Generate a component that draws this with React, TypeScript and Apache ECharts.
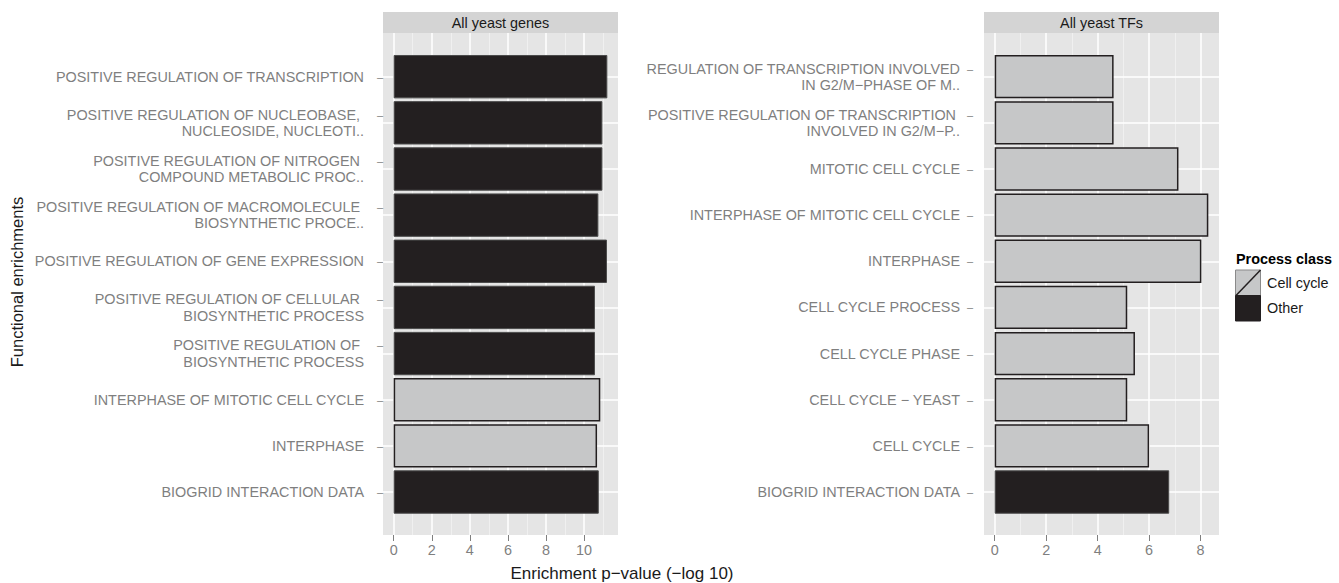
import React, { useEffect, useRef } from 'react';
import * as echarts from 'echarts';

// ---------- data ----------
const leftTitle = 'All yeast genes';
const rightTitle = 'All yeast TFs';

const leftCategories = [
  'POSITIVE REGULATION OF TRANSCRIPTION',
  'POSITIVE REGULATION OF NUCLEOBASE, \nNUCLEOSIDE, NUCLEOTI..',
  'POSITIVE REGULATION OF NITROGEN \nCOMPOUND METABOLIC PROC..',
  'POSITIVE REGULATION OF MACROMOLECULE \nBIOSYNTHETIC PROCE..',
  'POSITIVE REGULATION OF GENE EXPRESSION',
  'POSITIVE REGULATION OF CELLULAR \nBIOSYNTHETIC PROCESS',
  'POSITIVE REGULATION OF \nBIOSYNTHETIC PROCESS',
  'INTERPHASE OF MITOTIC CELL CYCLE',
  'INTERPHASE',
  'BIOGRID INTERACTION DATA',
];
const leftValues = [11.22, 10.96, 10.96, 10.75, 11.2, 10.57, 10.57, 10.85, 10.68, 10.77];
const leftClasses = ['Other', 'Other', 'Other', 'Other', 'Other', 'Other', 'Other', 'Cell cycle', 'Cell cycle', 'Other'];

const rightCategories = [
  'REGULATION OF TRANSCRIPTION INVOLVED\nIN G2/M\u2212PHASE OF M..',
  'POSITIVE REGULATION OF TRANSCRIPTION \nINVOLVED IN G2/M\u2212P..',
  'MITOTIC CELL CYCLE',
  'INTERPHASE OF MITOTIC CELL CYCLE',
  'INTERPHASE',
  'CELL CYCLE PROCESS',
  'CELL CYCLE PHASE',
  'CELL CYCLE \u2212 YEAST',
  'CELL CYCLE',
  'BIOGRID INTERACTION DATA',
];
const rightValues = [4.62, 4.62, 7.14, 8.3, 8.03, 5.15, 5.45, 5.15, 6.0, 6.78];
const rightClasses = ['Cell cycle', 'Cell cycle', 'Cell cycle', 'Cell cycle', 'Cell cycle', 'Cell cycle', 'Cell cycle', 'Cell cycle', 'Cell cycle', 'Other'];

const leftTicks = [0, 2, 4, 6, 8, 10];
const rightTicks = [0, 2, 4, 6, 8];
const processClasses = ['Cell cycle', 'Other'];

const xTitle = 'Enrichment p\u2212value (\u2212log 10)';
const yTitle = 'Functional enrichments';
const legendTitle = 'Process class';

// ---------- styles ----------
const FONT = '"Liberation Sans", Arial, Helvetica, sans-serif';
const GREY = '#7F7F7F';
const LABEL_SIZE = 14.4;
const classFill: Record<string, string> = { 'Cell cycle': '#C6C7C8', Other: '#231F20' };
const classBorder: Record<string, string> = { 'Cell cycle': '#231F20', Other: '#4A4A4A' };

const PANEL_TOP = 33;
const PANEL_H = 502;
const BAR_TOP = 53.6;
const BAR_H = 461.5;
const LEFT_X = 383;
const RIGHT_X = 984;
const PANEL_W = 235;

function makeFormatter() {
  return (value: string) => {
    const lines = value.split('\n');
    return lines
      .map((l, i) => {
        const t = l.replace(/ $/, '\u00a0');
        return `{t|${t}}` + (i === 0 ? '{d|\u2013}' : '{e|\u00a0}');
      })
      .join('\n');
  };
}

function rich(dashWidth: number) {
  return {
    t: { fontSize: LABEL_SIZE, color: GREY, fontFamily: FONT, lineHeight: 16.3 },
    d: { fontSize: 11, color: GREY, fontFamily: FONT, width: dashWidth, align: 'right', lineHeight: 16.3 },
    e: { fontSize: 11, color: GREY, fontFamily: FONT, width: dashWidth, lineHeight: 16.3 },
  };
}

function bgXAxis(gridIndex: number, min: number, max: number, ticks: number[]) {
  return {
    type: 'value',
    gridIndex,
    min,
    max,
    axisLine: { show: false },
    axisTick: { show: true, length: 6, lineStyle: { color: GREY, width: 1 }, customValues: ticks },
    axisLabel: { customValues: ticks, color: GREY, fontSize: LABEL_SIZE, fontFamily: FONT, margin: 8 },
    splitLine: { show: true, lineStyle: { color: '#FFFFFF', width: 1.5 } },
    minorTick: { show: false, splitNumber: 2 },
    minorSplitLine: { show: true, lineStyle: { color: '#F2F2F2', width: 0.8 } },
  };
}

function barXAxis(gridIndex: number, min: number, max: number) {
  return { type: 'value', gridIndex, min, max, show: false };
}

function barYAxis(gridIndex: number, cats: string[], margin: number, dashWidth: number) {
  return {
    type: 'category',
    gridIndex,
    data: cats,
    inverse: true,
    axisLine: { show: false },
    axisTick: { show: false },
    splitLine: { show: false },
    axisLabel: { margin, formatter: makeFormatter(), rich: rich(dashWidth), interval: 0 },
  };
}

function barSeries(axisIndex: number, values: number[], classes: string[]) {
  return {
    type: 'bar',
    xAxisIndex: axisIndex,
    yAxisIndex: axisIndex,
    z: 3,
    silent: true,
    barCategoryGap: '6%',
    data: values.map((v, i) => ({
      value: v,
      itemStyle: { color: classFill[classes[i]], borderColor: classBorder[classes[i]], borderWidth: classes[i] === 'Other' ? 1 : 1.5 },
    })),
  };
}

function lineHelper(axisIndex: number, cats: string[]) {
  return {
    type: 'line',
    xAxisIndex: axisIndex,
    yAxisIndex: axisIndex,
    z: 1,
    silent: true,
    data: [],
    markLine: {
      z: 1,
      silent: true,
      symbol: ['none', 'none'],
      label: { show: false },
      lineStyle: { color: '#FFFFFF', width: 1.5, type: 'solid' },
      emphasis: { disabled: true },
      data: cats.map((_, i) => ({ yAxis: i })),
    },
  };
}

function stripGraphics(x: number, title: string) {
  return [
    { type: 'rect', shape: { x, y: 12, width: PANEL_W, height: 21 }, style: { fill: '#D4D4D4' }, silent: true },
    {
      type: 'text',
      x: x + PANEL_W / 2,
      y: 22.5,
      style: { text: title, fill: '#1A1A1A', fontSize: LABEL_SIZE, fontFamily: FONT, textAlign: 'center', textVerticalAlign: 'middle' },
      silent: true,
    },
  ];
}

export default function App() {
  const ref = useRef<HTMLDivElement>(null);
  useEffect(() => {
    document.body.style.margin = '0';
    if (!ref.current) return;
    const chart = echarts.init(ref.current, undefined, { renderer: 'svg' });
    const lmin = -0.56, lmax = 11.78, rmin = -0.415, rmax = 8.715;
    const option: any = {
      animation: false,
      backgroundColor: '#FFFFFF',
      grid: [
        { left: LEFT_X, top: PANEL_TOP, width: PANEL_W, height: PANEL_H, show: true, backgroundColor: '#E5E5E5', borderWidth: 0, outerBoundsMode: 'none' },
        { left: LEFT_X, top: BAR_TOP, width: PANEL_W, height: BAR_H, show: false, outerBoundsMode: 'none' },
        { left: RIGHT_X, top: PANEL_TOP, width: PANEL_W, height: PANEL_H, show: true, backgroundColor: '#E5E5E5', borderWidth: 0, outerBoundsMode: 'none' },
        { left: RIGHT_X, top: BAR_TOP, width: PANEL_W, height: BAR_H, show: false, outerBoundsMode: 'none' },
      ],
      xAxis: [
        bgXAxis(0, lmin, lmax, leftTicks),
        barXAxis(1, lmin, lmax),
        bgXAxis(2, rmin, rmax, rightTicks),
        barXAxis(3, rmin, rmax),
      ],
      yAxis: [
        { type: 'value', gridIndex: 0, min: 0, max: 1, show: false },
        barYAxis(1, leftCategories, 0, 19),
        { type: 'value', gridIndex: 2, min: 0, max: 1, show: false },
        barYAxis(3, rightCategories, 11, 13),
      ],
      series: [
        lineHelper(1, leftCategories),
        barSeries(1, leftValues, leftClasses),
        lineHelper(3, rightCategories),
        barSeries(3, rightValues, rightClasses),
      ],
      graphic: [
        ...stripGraphics(LEFT_X, leftTitle),
        ...stripGraphics(RIGHT_X, rightTitle),
        {
          type: 'text',
          x: 622,
          y: 573,
          style: { text: xTitle, fill: '#1A1A1A', fontSize: 17, fontFamily: FONT, textAlign: 'center', textVerticalAlign: 'middle' },
          silent: true,
        },
        {
          type: 'text',
          x: 17,
          y: 282,
          rotation: Math.PI / 2,
          style: { text: yTitle, fill: '#1A1A1A', fontSize: 16.5, fontFamily: FONT, textAlign: 'center', textVerticalAlign: 'middle' },
          silent: true,
        },
        {
          type: 'text',
          x: 1236,
          y: 259,
          style: { text: legendTitle, fill: '#000000', fontSize: LABEL_SIZE, fontWeight: 'bold', fontFamily: FONT, textAlign: 'left', textVerticalAlign: 'middle' },
          silent: true,
        },
        ...processClasses.flatMap((c, i) => {
          const y = 270 + i * 25.5;
          const items: any[] = [
            { type: 'rect', shape: { x: 1235.5, y, width: 25, height: 25.5 }, style: { fill: classFill[c], stroke: c === 'Other' ? classFill[c] : '#8A8A8A', lineWidth: 1 }, silent: true },
            {
              type: 'text',
              x: 1267,
              y: y + 12.75,
              style: { text: c, fill: '#1A1A1A', fontSize: LABEL_SIZE, fontFamily: FONT, textAlign: 'left', textVerticalAlign: 'middle' },
              silent: true,
            },
          ];
          if (c === 'Cell cycle') {
            items.push({ type: 'line', shape: { x1: 1236, y1: y + 25.5, x2: 1260.5, y2: y }, style: { stroke: '#231F20', lineWidth: 1.5 }, silent: true });
          }
          return items;
        }),
      ],
    };
    chart.setOption(option);
    return () => chart.dispose();
  }, []);
  return <div ref={ref} style={{ width: 1339, height: 583 }} />;
}
